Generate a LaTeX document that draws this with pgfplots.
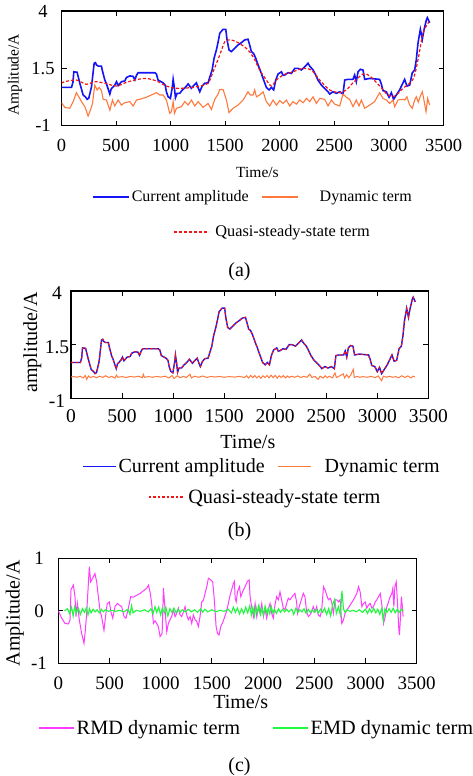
\documentclass[border=0pt]{standalone}
\usepackage{fontspec}
\setmainfont{Liberation Serif}
\usepackage{pgfplots}
\usepackage{pgfplotstable}
\pgfplotsset{compat=1.18}

\definecolor{cblue}{RGB}{20,20,245}
\definecolor{corange}{RGB}{255,120,60}
\definecolor{cred}{RGB}{245,20,20}
\definecolor{cmag}{RGB}{255,60,255}
\definecolor{cgreen}{RGB}{30,250,60}

\pgfplotstableread{
t v
0 0.67
92 0.67
105 0.9
113 1.35
143 1.33
155 1.1
168 0.85
198 0.34
220 0.25
235 0.15
250 0.2
275 0.70
299 1.72
311 1.75
320 1.65
336 1.60
366 1.60
372 1.45
397 0.99
410 0.85
443 0.38
455 0.6
488 0.77
504 0.92
519 0.75
550 0.92
580 0.95
595 1.1
626 1.17
656 1.15
672 1.0
687 1.2
702 1.31
778 1.31
855 1.31
870 1.25
885 0.99
931 0.87
950 0.77
961 0.48
977 0.26
998 0.19
1016 0.70
1023 1.02
1035 0.63
1044 0.22
1059 0.41
1083 0.41
1108 0.56
1130 0.65
1145 0.73
1160 0.82
1190 0.63
1206 0.73
1236 0.87
1252 0.65
1267 0.48
1289 0.73
1313 0.85
1343 0.87
1358 1.11
1380 1.43
1398 1.94
1419 2.30
1435 2.65
1450 3.03
1480 3.20
1505 3.20
1517 2.74
1535 2.30
1557 2.23
1587 2.37
1618 2.52
1648 2.62
1679 2.74
1709 2.77
1725 2.50
1740 2.23
1760 2.15
1780 1.94
1801 1.65
1822 1.40
1847 1.06
1877 0.67
1902 0.56
1923 0.67
1944 0.56
1963 0.99
1984 1.25
2015 1.35
2030 1.20
2045 1.21
2076 1.31
2106 1.28
2137 1.50
2167 1.50
2198 1.43
2228 1.57
2259 1.72
2274 1.60
2305 1.43
2329 1.21
2350 0.99
2381 0.77
2411 0.63
2442 0.48
2457 0.38
2488 0.48
2518 0.41
2549 0.48
2579 0.38
2595 0.99
2625 1.02
2671 1.02
2686 1.21
2701 0.92
2717 1.35
2738 1.46
2762 1.43
2778 1.02
2824 1.06
2915 1.02
2930 0.82
2946 0.53
2976 0.48
3001 0.24
3022 0.44
3043 0.15
3068 0.34
3098 0.56
3129 0.87
3144 1.02
3165 0.73
3190 0.77
3214 1.31
3236 1.43
3251 1.89
3266 2.59
3288 3.20
3306 2.77
3321 3.17
3343 3.61
3352 3.71
3373 3.49
}\current

\pgfplotstableread{
t v
0 0.0
31 -0.2
76 -0.24
107 0.05
137 0.44
160 0.25
183 0.05
214 -0.17
244 -0.58
265 -0.32
284 -0.03
305 0.77
327 0.56
345 0.67
366 0.53
382 0.15
412 0.12
443 -0.32
467 0.12
488 -0.14
519 0.12
549 -0.1
580 0.0
626 0.05
656 -0.14
687 0.12
717 0.15
778 0.24
870 0.44
900 0.34
931 0.34
961 0.12
992 -0.46
1007 -0.39
1023 0.05
1035 -0.46
1053 -0.24
1099 -0.17
1130 0.05
1160 -0.1
1191 0.12
1221 -0.14
1252 0.05
1297 -0.2
1343 -0.03
1374 -0.29
1404 0.15
1435 0.38
1450 0.58
1480 0.58
1511 0.12
1535 -0.43
1572 -0.24
1618 -0.1
1664 0.12
1709 0.48
1730 0.34
1755 0.34
1770 0.56
1786 0.26
1816 0.34
1847 0.48
1877 0.05
1908 -0.14
1938 0.12
1969 -0.1
2000 0.09
2030 -0.03
2060 0.12
2091 -0.14
2121 0.05
2152 -0.06
2182 0.12
2213 0.0
2244 0.19
2274 0.05
2305 0.26
2335 -0.03
2366 0.19
2411 0.15
2442 -0.14
2473 0.12
2503 -0.06
2549 -0.14
2579 0.38
2610 0.24
2640 0.15
2671 -0.17
2701 0.12
2726 -0.14
2747 0.12
2778 -0.24
2824 -0.1
2869 0.05
2915 0.44
2946 0.19
2976 0.12
3007 -0.03
3037 0.12
3053 -0.17
3083 0.12
3129 0.15
3144 0.12
3165 0.26
3190 -0.1
3214 -0.24
3236 0.12
3251 0.26
3269 0.03
3288 0.29
3306 0.48
3318 0.19
3340 -0.39
3355 0.19
3373 -0.1
}\dyna

\pgfplotstableread{
t v
0 0.85
30 0.92
137 0.99
229 0.80
300 0.92
400 0.85
504 0.73
600 0.90
700 1.02
778 1.06
870 0.95
961 0.73
1053 0.63
1160 0.65
1267 0.73
1343 0.85
1389 1.35
1450 2.08
1496 2.66
1541 2.74
1603 2.66
1694 2.37
1755 2.01
1816 1.43
1877 0.99
1923 0.73
1969 0.99
2030 1.21
2121 1.35
2213 1.50
2289 1.43
2366 0.99
2457 0.56
2549 0.44
2610 0.56
2671 0.87
2762 1.25
2824 1.17
2915 0.73
2991 0.34
3053 0.29
3129 0.63
3220 1.02
3266 1.86
3312 3.03
3367 3.53
}\quasi

\pgfplotstableread{
t v
0 0.0
30 0.01
60 -0.02
90 0.03
120 -0.05
140 0.06
154 -0.12
170 0.04
190 -0.03
220 0.02
250 -0.04
280 0.03
310 -0.02
340 0.05
370 -0.03
400 0.02
430 -0.06
445 0.08
460 -0.02
500 0.01
540 -0.03
580 0.02
620 -0.01
660 0.03
700 -0.04
708 0.12
720 -0.02
760 0.01
800 -0.02
840 0.02
880 -0.01
920 0.03
960 -0.05
990 0.06
1010 -0.08
1040 0.05
1070 -0.04
1100 0.02
1130 -0.03
1165 0.12
1180 -0.05
1210 0.03
1250 -0.02
1290 0.04
1330 -0.03
1370 0.02
1410 -0.01
1450 0.02
1500 -0.02
1550 0.01
1600 -0.01
1650 0.02
1700 -0.03
1720 0.05
1740 -0.06
1760 0.07
1780 -0.04
1800 0.06
1820 -0.05
1840 0.04
1860 -0.07
1880 0.05
1900 -0.03
1920 0.06
1940 -0.05
1960 0.08
1980 -0.04
2000 0.07
2020 -0.06
2040 0.05
2060 -0.03
2080 0.06
2100 -0.05
2120 0.04
2140 -0.03
2160 0.03
2190 -0.02
2220 0.04
2250 -0.03
2280 0.02
2310 -0.02
2340 0.12
2360 -0.03
2390 0.02
2421 -0.12
2440 0.03
2470 -0.06
2490 0.05
2510 -0.04
2530 0.03
2560 -0.05
2586 0.18
2600 -0.03
2630 0.04
2667 0.14
2680 -0.05
2700 0.1
2720 -0.04
2740 0.08
2765 0.35
2775 -0.03
2800 0.02
2830 -0.02
2860 0.01
2900 -0.02
2940 0.02
2980 -0.03
3010 0.04
3043 -0.18
3060 0.03
3090 -0.02
3120 0.03
3150 -0.02
3180 0.01
3210 -0.04
3240 0.05
3270 -0.03
3300 0.04
3330 -0.05
3350 0.03
3370 -0.01
}\dynb

\pgfplotstableread{
t v
0 0
33 -0.14
65 -0.24
98 -0.25
114 -0.18
124 0.40
147 0.49
163 0.27
173 -0.11
186 0.14
205 -0.17
228 -0.43
251 -0.62
264 -0.37
277 -0.05
303 0.84
316 0.55
335 0.62
358 0.71
375 0.55
391 0.27
407 0.01
423 -0.11
446 -0.37
465 -0.05
478 0.14
498 0.17
514 -0.02
531 -0.14
554 0.08
577 0.14
596 0.11
619 0.08
642 -0.11
661 -0.14
684 0.05
707 0.27
733 0.26
798 0.33
864 0.43
880 0.49
896 0.36
912 0.14
929 -0.24
945 -0.19
961 -0.24
977 -0.3
994 -0.49
1014 -0.43
1027 0.43
1043 0.01
1059 -0.4
1075 -0.24
1091 -0.17
1107 -0.11
1124 0.02
1140 -0.11
1156 -0.05
1173 0.05
1189 -0.08
1205 -0.11
1222 -0.02
1238 0.08
1254 -0.08
1270 -0.17
1287 -0.11
1303 -0.24
1319 -0.08
1336 -0.17
1352 -0.2
1368 -0.3
1384 -0.11
1401 0.17
1417 0.20
1433 0.33
1450 0.46
1466 0.62
1489 0.59
1508 0.55
1521 0.27
1531 0.0
1541 -0.3
1554 -0.43
1570 -0.46
1587 -0.3
1612 -0.19
1645 0.0
1678 0.30
1710 0.52
1720 0.56
1727 0.24
1737 0.17
1750 0.36
1769 0.46
1782 0.27
1808 0.40
1831 0.49
1847 0.56
1864 0.59
1873 0.27
1890 0.05
1906 -0.11
1922 0.14
1938 -0.11
1954 0.08
1970 -0.05
1987 0.14
2003 -0.11
2019 0.05
2035 -0.14
2051 0.02
2068 0.14
2084 -0.05
2100 -0.14
2116 0.11
2132 0.27
2149 0.21
2165 0.36
2181 0.21
2197 0.05
2214 0.02
2230 0.14
2246 0.24
2262 0.21
2296 0.30
2311 0.33
2327 0.17
2336 -0.05
2352 0.07
2378 0.24
2393 0.33
2409 0.27
2425 -0.02
2442 -0.11
2458 -0.08
2474 -0.02
2490 0.08
2507 -0.02
2523 0.08
2539 -0.08
2557 -0.11
2572 0.01
2590 0.46
2605 0.40
2621 0.30
2637 0.21
2654 0.24
2670 0.17
2686 -0.05
2703 0.21
2719 0.21
2735 0.17
2752 0.21
2768 -0.24
2784 -0.18
2800 -0.05
2817 0.01
2850 0.11
2883 0.21
2915 0.33
2932 0.46
2948 0.36
2965 0.08
2981 0.14
2997 0.17
3013 0.05
3030 0.11
3046 0.14
3062 0.05
3078 0.08
3095 0.17
3111 0.21
3127 0.27
3144 0.33
3160 0.11
3176 -0.24
3193 -0.11
3209 0.08
3225 0.17
3241 0.27
3257 0.33
3267 0.43
3277 0.08
3287 0.46
3300 0.55
3313 0.14
3326 -0.37
3332 -0.46
3342 -0.11
3350 0.27
3360 0.08
3367 -0.11
}\rmd

\pgfplotstableread{
t v
60 0.0
90 0.04
110 -0.05
130 0.07
145 -0.1
160 0.08
175 -0.04
195 0.05
215 -0.07
235 0.04
255 -0.03
275 0.06
290 -0.08
305 0.04
320 -0.04
340 0.03
360 -0.02
380 0.02
400 -0.04
420 0.03
440 -0.02
460 0.02
490 -0.01
520 0.01
560 -0.01
600 0.01
640 -0.02
680 0.03
700 -0.07
715 0.1
730 -0.04
760 0.01
800 -0.01
840 0.02
880 -0.02
905 0.04
925 -0.06
945 0.08
960 -0.03
980 0.07
1000 -0.08
1015 0.05
1035 -0.04
1050 0.07
1070 -0.1
1090 0.04
1110 -0.03
1130 0.05
1150 -0.04
1170 0.03
1190 -0.03
1210 0.02
1240 -0.02
1270 0.03
1300 -0.02
1330 0.02
1360 -0.03
1390 0.04
1410 -0.03
1430 0.03
1460 -0.02
1500 0.02
1540 -0.02
1580 0.01
1620 -0.01
1660 0.03
1690 -0.04
1710 0.07
1730 -0.03
1750 0.05
1770 -0.06
1790 0.04
1810 -0.05
1830 0.07
1850 -0.04
1870 0.1
1885 -0.08
1900 0.06
1915 -0.1
1930 0.08
1945 -0.05
1960 0.1
1975 -0.07
1990 0.05
2005 -0.08
2020 0.09
2035 -0.05
2050 0.05
2065 -0.06
2080 0.08
2095 -0.04
2110 0.03
2130 -0.05
2150 0.04
2170 -0.03
2190 0.03
2210 -0.02
2230 0.03
2250 -0.02
2280 0.03
2300 -0.07
2320 0.05
2340 -0.03
2360 0.02
2380 -0.02
2400 0.04
2420 -0.05
2440 0.03
2460 -0.03
2480 0.02
2500 -0.03
2520 0.03
2540 -0.04
2560 0.03
2580 -0.03
2600 0.05
2620 -0.07
2640 0.04
2660 -0.1
2680 0.13
2700 0.22
2715 -0.05
2735 0.08
2755 -0.08
2770 0.38
2785 0.04
2800 -0.03
2820 0.02
2850 -0.01
2880 0.01
2910 -0.02
2940 0.02
2970 -0.03
3000 0.03
3020 -0.05
3040 0.04
3060 -0.03
3080 0.05
3100 -0.04
3120 0.03
3140 -0.07
3160 0.05
3175 -0.18
3190 0.04
3210 -0.03
3230 0.04
3250 -0.03
3270 0.05
3290 -0.04
3310 0.03
3330 -0.03
3350 0.03
3370 0.0
}\emd

\pgfplotsset{
  panel/.style={
    scale only axis,
    xmin=0, xmax=3500,
    xtick={0,500,...,3500},
    tick align=inside,
    major tick length=5pt,
    every tick/.style={black, line width=0.9pt},
    axis line style={line width=1.1pt},
    /pgf/number format/assume math mode=true,
    /pgf/number format/1000 sep={},
    scaled ticks=false,
    legend cell align=left,
  },
}

\begin{document}
\begin{tikzpicture}
\path[use as bounding box] (0pt,0pt) rectangle (472pt,-776pt);

% ---------------- (a)
\begin{axis}[panel,
  at={(61.5pt,-125.7pt)}, anchor=south west,
  width=382pt, height=114.7pt,
  ymin=-1, ymax=4, ytick={-1,1.5,4},
  ticklabel style={font=\fontsize{18.5}{20}\selectfont},
  xticklabel style={anchor=center, yshift=-19.8pt},
  yticklabel style={anchor=center, xshift=-18.5pt},
  xlabel={Time/s}, ylabel={Amplitude/A},
  xlabel style={font=\fontsize{15.5}{18}\selectfont, at={(axis description cs:0.513,-0.404)}, anchor=center},
  ylabel style={font=\fontsize{15.5}{18}\selectfont, at={(axis description cs:-0.122,0.442)}, anchor=center},
  legend columns=2,
  legend image code/.code={\draw[#1] (0pt,0pt) -- (36pt,0pt);},
  legend style={draw=none, fill=none, inner sep=0pt, font=\fontsize{16}{19}\selectfont,
    at={(axis description cs:0.0798,-0.622)}, anchor=west,
    /tikz/every even column/.append style={column sep=11pt}},
]
\addplot[cblue, line width=1.6pt] table[x=t,y=v] {\current};
\addlegendentry{Current amplitude}
\addplot[corange, line width=1.1pt] table[x=t,y=v] {\dyna};
\addlegendentry{\hspace{19pt}Dynamic term}
\addplot[cred, line width=1.2pt, dash pattern=on 3pt off 2pt, smooth, tension=0.5, forget plot] table[x=t,y=v] {\quasi};
\end{axis}
\begin{axis}[panel, hide axis,
  at={(61.5pt,-125.7pt)}, anchor=south west,
  width=382pt, height=114.7pt, ymin=-1, ymax=4,
  legend image code/.code={\draw[#1] (0pt,0pt) -- (35pt,0pt);},
  legend style={draw=none, fill=none, inner sep=0pt, font=\fontsize{16.3}{19}\selectfont,
    at={(axis description cs:0.292,-0.927)}, anchor=west},
]
\addlegendimage{cred, line width=1.2pt, dash pattern=on 3pt off 2pt}
\addlegendentry{\hspace{4pt}Quasi-steady-state term}
\end{axis}
\node[font=\fontsize{20}{22}\selectfont] at (239.5pt,-272pt) {(a)};

% ---------------- (b)
\begin{axis}[panel,
  at={(71pt,-398.3pt)}, anchor=south west,
  width=357.3pt, height=107.3pt,
  ymin=-1, ymax=4, ytick={-1,1.5,4},
  ticklabel style={font=\fontsize{19.5}{22}\selectfont},
  xticklabel style={anchor=center, yshift=-17.5pt},
  yticklabel style={anchor=center, xshift=-14pt, yshift=-2.5pt},
  xlabel={Time/s}, ylabel={amplitude/A},
  xlabel style={font=\fontsize{20}{23}\selectfont, at={(axis description cs:0.495,-0.404)}, anchor=center},
  ylabel style={font=\fontsize{20}{23}\selectfont, at={(axis description cs:-0.108,0.52)}, anchor=center},
  legend columns=2,
  legend image code/.code={\draw[#1] (0pt,0pt) -- (33pt,0pt);},
  legend style={draw=none, fill=none, inner sep=0pt, font=\fontsize{20}{23}\selectfont,
    at={(axis description cs:0.0308,-0.6375)}, anchor=west,
    /tikz/every even column/.append style={column sep=11pt}},
]
\addplot[cblue, line width=1.4pt] table[x=t,y=v] {\current};
\addlegendentry{Current amplitude}
\addplot[corange, line width=1pt] table[x=t,y=v] {\dynb};
\addlegendentry{\hspace{11pt}Dynamic term}
\addplot[cred, line width=1.1pt, dash pattern=on 2.5pt off 2pt, forget plot] table[x=t,y=v] {\current};
\end{axis}
\begin{axis}[panel, hide axis,
  at={(71pt,-398.3pt)}, anchor=south west,
  width=357.3pt, height=107.3pt, ymin=-1, ymax=4,
  legend image code/.code={\draw[#1] (0pt,0pt) -- (34pt,0pt);},
  legend style={draw=none, fill=none, inner sep=0pt, font=\fontsize{20.3}{23}\selectfont,
    at={(axis description cs:0.2155,-0.92)}, anchor=west},
]
\addlegendimage{cred, line width=1.1pt, dash pattern=on 2.5pt off 2pt}
\addlegendentry{\hspace{3pt}Quasi-steady-state term}
\end{axis}
\node[font=\fontsize{20}{22}\selectfont] at (239.5pt,-532pt) {(b)};

% ---------------- (c)
\begin{axis}[panel,
  at={(58.3pt,-663.3pt)}, anchor=south west,
  width=358.4pt, height=105pt,
  ymin=-1, ymax=1, ytick={-1,0,1},
  ticklabel style={font=\fontsize{19}{22}\selectfont},
  xticklabel style={anchor=center, yshift=-20pt},
  yticklabel style={anchor=center, xshift=-19.3pt},
  xlabel={Time/s}, ylabel={Amplitude/A},
  xlabel style={font=\fontsize{20}{23}\selectfont, at={(axis description cs:0.509,-0.366)}, anchor=center},
  ylabel style={font=\fontsize{20}{23}\selectfont, at={(axis description cs:-0.121,0.476)}, anchor=center},
  legend columns=2,
  legend image code/.code={\draw[#1, line width=1.5pt] (0pt,0pt) -- (35pt,0pt);},
  legend style={draw=none, fill=none, inner sep=0pt, font=\fontsize{20.3}{23}\selectfont,
    at={(axis description cs:-0.0566,-0.616)}, anchor=west,
    /tikz/every even column/.append style={column sep=30pt}},
]
\addplot[cmag, line width=1pt] table[x=t,y=v] {\rmd};
\addlegendentry{RMD dynamic term}
\addplot[cgreen, line width=1.1pt] table[x=t,y=v] {\emd};
\addlegendentry{EMD dynamic term}
\end{axis}
\node[font=\fontsize{20}{22}\selectfont] at (239.5pt,-767pt) {(c)};
\end{tikzpicture}
\end{document}
